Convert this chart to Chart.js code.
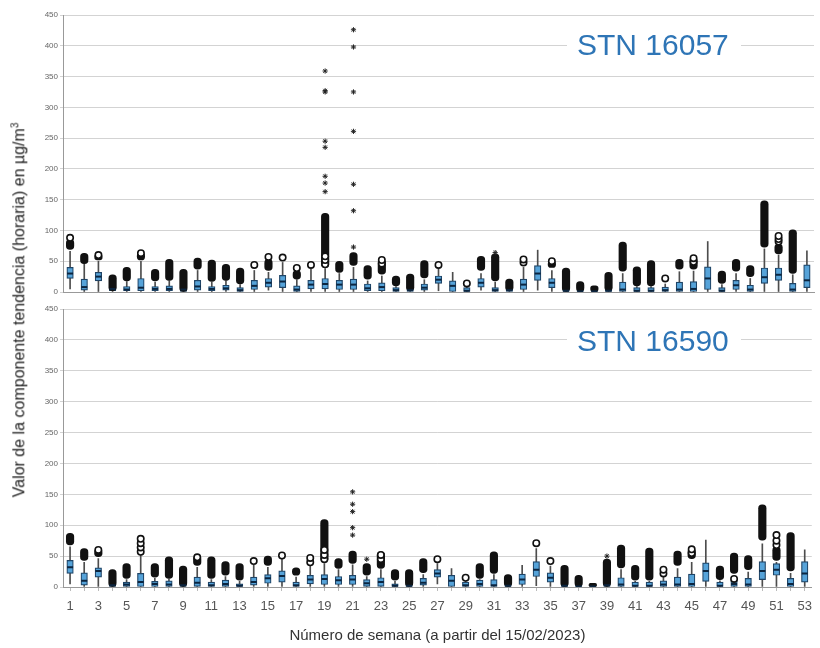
<!DOCTYPE html>
<html lang="es">
<head>
<meta charset="UTF-8">
<title>Componente tendencia por semana</title>
<script src="https://cdn.jsdelivr.net/npm/chart.js@4.4.1/dist/chart.umd.min.js"></script>
<style>
    body { margin: 0; background: #fff; font-family: "Liberation Sans", Arial, sans-serif; }
    .wrap { position: relative; width: 820px; height: 648px; overflow: hidden; }
    canvas { position: absolute; left: 0; }
    #chartTop { top: 0; }
    #chartBottom { top: 300px; }
    .stn {
        position: absolute; left: 567px; padding: 0 12px 0 10px; background: #fff;
        color: #2e75b6; font-size: 30px; line-height: 30px; white-space: nowrap;
    }
    .ytitle {
        position: absolute; left: 19px; top: 310px; white-space: nowrap;
        transform: translate(-50%, -50%) rotate(-90deg); font-size: 16px; color: #222;
    }
</style>
</head>
<body>
<div class="wrap">
    <canvas id="chartTop" width="820" height="300"></canvas>
    <canvas id="chartBottom" width="820" height="348"></canvas>
    <div class="stn" style="top:30px">STN 16057</div>
    <div class="stn" style="top:326px">STN 16590</div>
    <div class="ytitle">Valor de la componente tendencia (horaria) en µg/m<sup style="font-size:10px">3</sup></div>
</div>

<script>
    // weeks (from 15/02/2023)
    const weeks = [1, 2, 3, 4, 5, 6, 7, 8, 9, 10, 11, 12, 13, 14, 15, 16, 17, 18, 19, 20,
        21, 22, 23, 24, 25, 26, 27, 28, 29, 30, 31, 32, 33, 34, 35, 36, 37, 38, 39, 40,
        41, 42, 43, 44, 45, 46, 47, 48, 49, 50, 51, 52, 53];
    const yTicks = [0, 50, 100, 150, 200, 250, 300, 350, 400, 450];

    // STN 16057 - box stats per week
    const q1A  = [22, 3, 18, 2, 2, 2, 2, 2, 1, 3, 2, 3, 1, 4, 8, 7, 1, 5, 5, 4, 4, 2, 2, 1, 1, 3, 14,
        0, 0, 8, 0, 1, 4, 19, 7, 0, 0, 0, 0, 0, 0, 0, 0, 0, 0, 4, 0, 4, 0, 14, 19, 0, 7];
    const medA = [30, 8, 25, 5, 4, 7, 5, 5, 4, 9, 5, 6, 3, 10, 15, 17, 4, 12, 13, 12, 12, 6, 8, 3, 3, 7, 20,
        10, 2, 15, 3, 3, 12, 30, 15, 2, 1, 1, 2, 4, 2, 2, 3, 4, 5, 22, 2, 11, 4, 24, 28, 4, 19];
    const q3A  = [40, 21, 32, 9, 9, 22, 9, 10, 8, 19, 9, 11, 7, 19, 22, 27, 10, 19, 22, 19, 21, 13, 15, 7, 6, 13, 26,
        18, 7, 22, 7, 6, 21, 43, 22, 5, 4, 3, 5, 16, 7, 7, 8, 16, 17, 41, 7, 19, 11, 39, 39, 14, 44];
    const loA  = [5, 0, 0, 0, 0, 0, 0, 0, 0, 0, 0, 0, 0, 0, 3, 0, 0, 0, 0, 0, 0, 0, 0, 0, 0, 0, 2,
        0, 0, 3, 0, 0, 0, 3, 0, 0, 0, 0, 0, 0, 0, 0, 0, 0, 0, 0, 0, 0, 0, 0, 0, 0, 0];
    const hiA  = [66, 45, 50, 16, 17, 50, 16, 18, 14, 35, 16, 18, 12, 35, 32, 48, 20, 37, 38, 30, 40, 18, 26, 9, 10, 20, 38,
        32, 10, 30, 16, 10, 40, 68, 35, 8, 6, 4, 8, 30, 9, 9, 13, 33, 34, 82, 12, 30, 22, 70, 60, 28, 67];
    // dense clusters of outliers (drawn as black columns)
    const blobLoA = [69, 46, 52, 2, 18, 52, 18, 19, 1, 37, 17, 19, 13, null, 35, null, 21, null, 40, 32, 43, 21, 29, 10, 2, 23, null,
        null, null, 35, 18, 2, null, null, 40, 0, 0, 0, 2, 34, 10, 10, null, 37, 37, null, 14, 34, 25, 73, 62, 30, null];
    const blobHiA = [85, 63, 61, 28, 40, 64, 37, 53, 37, 55, 52, 45, 39, null, 53, null, 35, null, 128, 50, 64, 43, 53, 26, 29, 51, null,
        null, null, 58, 62, 21, null, null, 50, 39, 17, 10, 32, 81, 41, 51, null, 53, 56, null, 34, 53, 43, 148, 78, 101, null];
    const circlesA = [[1, 88], [3, 60], [6, 63], [14, 44], [15, 57], [16, 56], [17, 39], [18, 44], [19, 45], [19, 52],
        [19, 58], [23, 46], [23, 52], [27, 44], [29, 14], [33, 48], [33, 53], [35, 50], [43, 22], [45, 49], [45, 55],
        [51, 82], [51, 86], [51, 91]];
    const starsA = [[19, 163], [19, 177], [19, 188], [19, 235], [19, 245], [19, 325], [19, 327], [19, 359],
        [21, 73], [21, 132], [21, 175], [21, 261], [21, 325], [21, 398], [21, 426], [31, 64]];

    // STN 16590 - box stats per week
    const q1B  = [22, 3, 16, 1, 1, 0, 0, 0, 0, 1, 0, 1, 0, 3, 6, 8, 0, 5, 4, 4, 4, 1, 1, 0, 0, 3, 16,
        0, 0, 1, 0, 0, 4, 17, 8, 0, 0, 0, 0, 0, 0, 0, 0, 0, 0, 9, 0, 1, 0, 12, 19, 0, 8];
    const medB = [32, 10, 26, 3, 4, 8, 5, 4, 3, 7, 3, 5, 2, 8, 14, 18, 3, 12, 13, 11, 12, 6, 8, 2, 2, 7, 22,
        10, 3, 5, 3, 2, 12, 28, 15, 2, 1, 1, 3, 4, 2, 2, 4, 4, 5, 26, 2, 5, 4, 26, 28, 5, 22];
    const q3B  = [43, 23, 31, 7, 8, 22, 9, 10, 6, 16, 8, 11, 5, 16, 20, 26, 8, 19, 20, 17, 19, 12, 15, 5, 5, 14, 28,
        19, 8, 11, 12, 5, 21, 41, 23, 5, 4, 2, 7, 15, 8, 8, 10, 16, 21, 39, 8, 10, 14, 41, 38, 14, 41];
    const loB  = [5, 0, 0, 0, 0, 0, 0, 0, 0, 0, 0, 0, 0, 0, 0, 0, 0, 0, 0, 0, 0, 0, 0, 0, 0, 0, 5,
        0, 0, 0, 0, 0, 0, 2, 0, 0, 0, 0, 0, 0, 0, 0, 0, 0, 0, 0, 0, 0, 0, 0, 0, 0, 0];
    const hiB  = [65, 40, 46, 12, 12, 52, 14, 13, 10, 32, 12, 17, 9, 35, 32, 45, 16, 35, 38, 28, 36, 17, 28, 9, 8, 20, 38,
        30, 12, 12, 20, 8, 35, 62, 34, 8, 6, 3, 12, 28, 9, 9, 18, 30, 40, 76, 10, 12, 24, 70, 40, 22, 60];
    const blobLoB = [68, 43, 49, 0, 14, null, 16, 14, 0, 35, 14, 19, 11, null, 35, null, 19, null, 41, 30, 38, 19, 30, 11, 0, 23, null,
        null, null, 14, 22, 1, null, null, null, 0, 0, 0, 0, 31, 11, 11, null, 35, 46, null, 12, 22, 28, 76, 43, 26, null];
    const blobHiB = [87, 62, 62, 28, 38, null, 38, 49, 34, 51, 49, 41, 38, null, 50, null, 31, null, 109, 46, 58, 38, 57, 28, 28, 46, null,
        null, null, 38, 57, 20, null, null, null, 35, 19, 6, 45, 68, 35, 63, null, 58, 62, null, 34, 55, 51, 133, 65, 88, null];
    const circlesB = [[3, 60], [6, 57], [6, 64], [6, 71], [6, 78], [10, 48], [14, 42], [16, 51], [18, 40], [18, 47],
        [19, 45], [19, 52], [19, 60], [23, 45], [23, 52], [27, 45], [29, 15], [34, 71], [35, 42], [43, 22], [43, 28],
        [45, 55], [45, 61], [48, 13], [51, 68], [51, 75], [51, 84]];
    const starsB = [[21, 84], [21, 96], [21, 122], [21, 134], [21, 154], [22, 45], [39, 50]];

    const pairs = (lo, hi) => lo.map((v, i) => (v == null || hi[i] == null) ? null : [v, hi[i]]);
    const pts = list => list.map(([w, v]) => ({ x: w, y: v }));

    function boxDatasets(q1, med, q3, lo, hi, blobLo, blobHi, circles, stars) {
        return [
            { type: 'line', data: pts(stars), showLine: false, pointStyle: 'star', pointRadius: 2.6,
              borderColor: '#222', borderWidth: 1, order: 0 },
            { type: 'line', data: pts(circles), showLine: false, pointStyle: 'circle', pointRadius: 3.2,
              backgroundColor: '#fff', borderColor: '#111', borderWidth: 1.6, order: 1 },
            { type: 'line', data: med, showLine: false, pointStyle: 'line', pointRadius: 3,
              borderColor: '#0b2540', borderWidth: 2, order: 2 },
            { type: 'bar', data: pairs(blobLo, blobHi), backgroundColor: '#111', barThickness: 7.5,
              borderRadius: 3.75, borderSkipped: false, grouped: false, order: 3 },
            { type: 'bar', data: pairs(q1, q3), backgroundColor: '#56a3d9', borderColor: '#1f4466',
              borderWidth: 1.2, borderSkipped: false, barThickness: 6.5, grouped: false, order: 4 },
            { type: 'bar', data: pairs(lo, hi), backgroundColor: '#4d4d4d', barThickness: 1,
              grouped: false, order: 5 }
        ];
    }

    function makePanel(id, datasets, showX) {
        return new Chart(document.getElementById(id), {
            type: 'bar',
            data: { labels: weeks, datasets: datasets },
            options: {
                responsive: false,
                animation: false,
                devicePixelRatio: 1,
                layout: { padding: { top: showX ? 9 : 15, left: 0, right: 0, bottom: 0 } },
                plugins: { legend: { display: false }, tooltip: { enabled: false } },
                scales: {
                    x: {
                        type: 'category',
                        offset: true,
                        afterFit: s => { s.height = showX ? 61 : 8; },
                        grid: { display: true, drawOnChartArea: false, offset: false,
                                tickLength: showX ? 4 : 0, color: '#bbb' },
                        border: { color: '#999' },
                        ticks: {
                            display: showX, autoSkip: false, maxRotation: 0, padding: 8,
                            color: '#555', font: { size: 13 },
                            callback: function (v, i) { return i % 2 === 0 ? this.getLabelForValue(v) : ''; }
                        },
                        title: {
                            display: showX, text: 'Número de semana (a partir del 15/02/2023)',
                            color: '#333', font: { size: 15 }, padding: { top: 4, bottom: 3 }
                        }
                    },
                    y: {
                        min: 0, max: 450,
                        afterFit: s => { s.width = 63; },
                        afterBuildTicks: s => { s.ticks = yTicks.map(v => ({ value: v })); },
                        grid: { color: '#d3d3d3', tickLength: 3 },
                        border: { color: '#999' },
                        ticks: { color: '#666', padding: 2, font: { size: 8 } }
                    }
                }
            }
        });
    }

    Chart.defaults.font.family = '"Liberation Sans", Arial, sans-serif';

    makePanel('chartTop', boxDatasets(q1A, medA, q3A, loA, hiA, blobLoA, blobHiA, circlesA, starsA), false);
    makePanel('chartBottom', boxDatasets(q1B, medB, q3B, loB, hiB, blobLoB, blobHiB, circlesB, starsB), true);
</script>
</body>
</html>
